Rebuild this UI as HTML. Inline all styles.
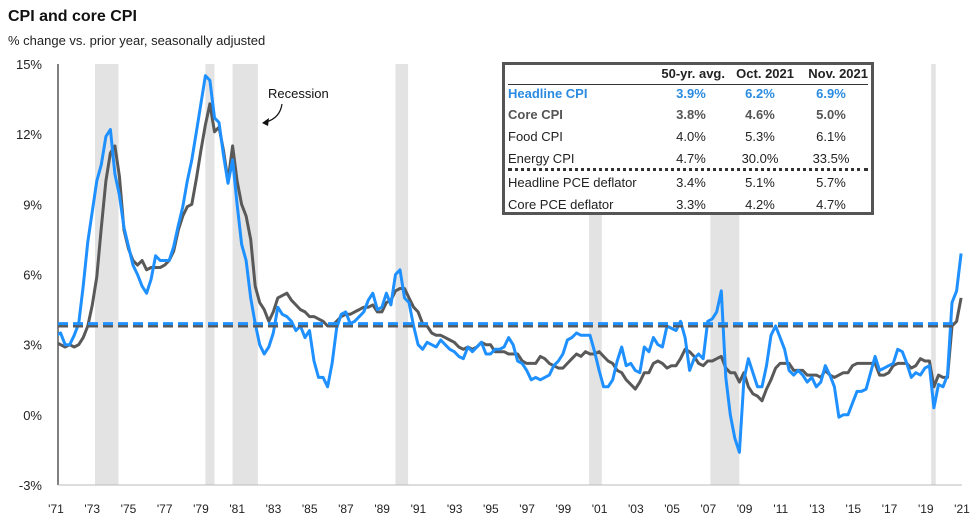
<!DOCTYPE html>
<html><head><meta charset="utf-8"><style>
body{margin:0;background:#fff;font-family:"Liberation Sans",Arial,sans-serif;}
#wrap{position:relative;width:978px;height:524px;overflow:hidden}
.t{position:absolute;white-space:nowrap}
.c{position:absolute;white-space:nowrap;line-height:14px;font-size:13px;transform:translateX(-50%)}
.r{position:absolute;white-space:nowrap;line-height:14px;font-size:13px;font-weight:bold;transform:translateX(-100%)}
.l{position:absolute;white-space:nowrap;line-height:14px;font-size:13px;left:3px}
</style></head><body>
<div id="wrap">
<div class="t" style="left:8px;top:8px;font-size:16px;font-weight:bold;color:#111">CPI and core CPI</div>
<div class="t" style="left:8px;top:33px;font-size:13px;color:#222">% change vs. prior year, seasonally adjusted</div>
<svg id="chart" width="978" height="524" style="position:absolute;left:0;top:0"></svg>
</div>
<script>
const recessions=[[1973.9,1975.2],[1980.0,1980.5],[1981.5,1982.9],[1990.5,1991.2],[2001.2,2001.9],[2007.9,2009.5],[2020.1,2020.35]];
const yTicks=[-3,0,3,6,9,12,15];
const xTickLabels=["'71","'73","'75","'77","'79","'81","'83","'85","'87","'89","'91","'93","'95","'97","'99","'01","'03","'05","'07","'09","'11","'13","'15","'17","'19","'21"];
const headlineAvg=3.9, coreAvg=3.8;
const headline=[4.4,4.4,4.1,3.4, 3.5,3.0,3.0,3.4, 3.9,5.5,7.4,8.7, 10.0,10.7,11.9,12.2, 10.3,9.4,8.0,7.2, 6.4,6.0,5.5,5.2, 5.8,6.8,6.6,6.6, 6.6,7.2,8.1,8.9, 10.0,10.9,12.1,13.3, 14.5,14.3,12.7,12.5, 11.1,9.9,10.9,9.0, 7.3,6.6,5.0,3.9, 3.0,2.6,2.9,3.5, 4.6,4.3,4.2,4.0, 3.6,3.8,3.3,3.6, 2.3,1.6,1.6,1.2, 2.2,3.7,4.3,4.4, 3.9,4.0,4.2,4.4, 4.9,5.2,4.5,4.6, 5.2,4.7,6.0,6.2, 5.0,4.8,3.8,3.0, 2.8,3.1,3.0,2.9, 3.2,3.0,2.8,2.7, 2.5,2.4,2.9,2.7, 2.9,3.1,2.6,2.6, 2.8,2.8,2.9,3.3, 3.0,2.3,2.2,1.9, 1.5,1.6,1.5,1.6, 1.7,2.1,2.3,2.6, 3.2,3.3,3.5,3.4, 3.4,3.4,2.7,1.9, 1.2,1.2,1.5,2.3, 2.9,2.1,2.2,1.9, 1.8,2.9,2.7,3.3, 3.0,2.9,3.8,3.7, 3.6,4.0,3.3,1.9, 2.4,2.6,2.4,4.0, 4.1,4.4,5.3,1.6, 0.0,-1.0,-1.6,1.5, 2.4,1.8,1.2,1.2, 2.1,3.4,3.8,3.3, 2.8,1.9,1.7,1.9, 1.7,1.4,1.6,1.2, 1.4,2.1,1.7,1.2, -0.1,0.0,0.0,0.5, 1.0,1.0,1.1,1.8, 2.5,1.9,2.0,2.1, 2.2,2.8,2.7,2.2, 1.6,1.8,1.7,2.0, 2.1,0.3,1.3,1.2, 1.7,4.8,5.3,6.9];
const core=[3.8,3.5,3.3,3.1, 3.0,2.9,3.0,2.9, 3.0,3.3,3.8,4.7, 5.9,8.0,10.0,11.2, 11.5,10.2,7.9,7.1, 6.6,6.4,6.6,6.2, 6.3,6.3,6.3,6.4, 6.6,7.0,7.9,8.5, 8.9,9.0,10.1,11.3, 12.4,13.3,12.1,12.3, 11.3,10.0,11.5,10.0, 9.0,8.5,7.5,5.5, 4.8,4.5,4.0,4.4, 5.0,5.1,5.2,4.9, 4.7,4.5,4.4,4.2, 4.2,4.1,4.0,3.8, 3.8,4.0,4.2,4.3, 4.3,4.4,4.5,4.6, 4.6,4.7,4.4,4.4, 4.8,4.9,5.3,5.4, 5.4,5.0,4.6,4.4, 3.9,3.8,3.5,3.4, 3.4,3.3,3.2,3.1, 2.9,2.8,2.9,2.8, 2.9,3.1,3.0,3.0, 2.7,2.7,2.7,2.6, 2.6,2.6,2.3,2.2, 2.2,2.2,2.5,2.4, 2.2,2.1,2.0,2.0, 2.2,2.4,2.6,2.5, 2.7,2.6,2.6,2.7, 2.5,2.3,2.2,1.9, 1.8,1.5,1.3,1.1, 1.4,1.8,1.8,2.2, 2.3,2.2,2.0,2.1, 2.1,2.4,2.8,2.7, 2.5,2.2,2.1,2.3, 2.3,2.4,2.5,2.0, 1.8,1.8,1.4,1.8, 1.2,0.9,0.8,0.6, 1.1,1.5,2.0,2.2, 2.2,2.2,1.9,1.9, 1.9,1.7,1.7,1.7, 1.6,1.9,1.7,1.6, 1.7,1.8,1.8,2.1, 2.2,2.2,2.2,2.2, 2.2,1.7,1.7,1.8, 2.1,2.2,2.2,2.2, 2.0,2.1,2.4,2.3, 2.3,1.2,1.7,1.6, 1.6,3.8,4.0,5.0];
const startYear=1971;
const svg=document.getElementById('chart');
const NS='http://www.w3.org/2000/svg';
const AX=58,AXR=962,Y0=485,Y1=64;
const xS=y=>95+(y-1973.9)*18.1;
const yS=v=>Y0-(v+3)*(Y0-Y1)/18;
function mk(tag,attrs,parent){const e=document.createElementNS(NS,tag);for(const k in attrs)e.setAttribute(k,attrs[k]);(parent||svg).appendChild(e);return e;}
const defs=mk('defs',{});
const cp=mk('clipPath',{id:'clip'},defs);
mk('rect',{x:AX,y:0,width:AXR-AX+10,height:524},cp);
recessions.forEach(r=>{
 const e=mk('rect',{x:xS(r[0]),y:Y1,width:xS(r[1])-xS(r[0]),height:Y0-Y1,fill:'#e3e3e3'});
 
 
});
let a=mk('line',{x1:AX,y1:Y1,x2:AX,y2:Y0,stroke:'#000','stroke-width':1});


a=mk('line',{x1:AX,y1:Y0,x2:AXR,y2:Y0,stroke:'#bbb','stroke-width':1});


yTicks.forEach(v=>{
 const t=mk('text',{x:42,y:yS(v)+5,'text-anchor':'end','font-size':13,fill:'#222','font-family':'Liberation Sans, sans-serif'});
 t.textContent=v+'%';
 
 
});
xTickLabels.forEach((s,i)=>{
 const t=mk('text',{x:56+i*(962-56)/25,y:513,'text-anchor':'middle','font-size':12,fill:'#222','font-family':'Liberation Sans, sans-serif'});
 t.textContent=s;
 
 
});
function line(vals,color,name){
 const d=vals.map((v,i)=>(i?'L':'M')+xS(startYear+i*0.25).toFixed(1)+','+yS(v).toFixed(1)).join('');
 const p=mk('path',{d:d,fill:'none',stroke:color,'stroke-width':3,'stroke-linejoin':'round','clip-path':'url(#clip)'});
 
 
}
line(core,'#595959','core-cpi-line');
line(headline,'#1e90ff','headline-cpi-line');
let d1=mk('line',{x1:AX,x2:AXR-5,y1:yS(coreAvg),y2:yS(coreAvg),stroke:'#595959','stroke-width':3,'stroke-dasharray':'10,5'});


let d2=mk('line',{x1:AX,x2:AXR-5,y1:yS(headlineAvg),y2:yS(headlineAvg),stroke:'#1e90ff','stroke-width':3,'stroke-dasharray':'10,5'});


let rl=mk('text',{x:268,y:98,'font-size':13,fill:'#111','font-family':'Liberation Sans, sans-serif'});
rl.textContent='Recession';


let ar=mk('path',{d:'M282,104 Q280,118 266,122',fill:'none',stroke:'#111','stroke-width':1.2});


let ah=mk('path',{d:'M262,123 L269,118 L268,126 Z',fill:'#111'});


</script>
<div style="position:absolute;left:502px;top:62px;width:366px;height:147px;border:3px solid #555;background:#fff;color:#222">
<div style="position:absolute;left:3px;right:3px;top:19px;border-top:1px solid #333"></div>
<div style="position:absolute;left:3px;right:3px;top:103px;border-top:3px dotted #333"></div>
<div>
<div class="r" style="left:220px;top:2px">50-yr. avg.</div><div class="r" style="left:289px;top:2px">Oct. 2021</div><div class="r" style="left:363px;top:2px">Nov. 2021</div></div>
<div style="color:#2a8be0;font-weight:bold">
<div class="l" style="top:22px;font-weight:bold">Headline CPI</div><div class="c" style="left:186px;top:22px;font-weight:bold">3.9%</div><div class="c" style="left:255px;top:22px;font-weight:bold">6.2%</div><div class="c" style="left:326px;top:22px;font-weight:bold">6.9%</div></div>
<div style="color:#555">
<div class="l" style="top:43px;font-weight:bold">Core CPI</div><div class="c" style="left:186px;top:43px;font-weight:bold">3.8%</div><div class="c" style="left:255px;top:43px;font-weight:bold">4.6%</div><div class="c" style="left:326px;top:43px;font-weight:bold">5.0%</div></div>
<div>
<div class="l" style="top:65px">Food CPI</div><div class="c" style="left:186px;top:65px">4.0%</div><div class="c" style="left:255px;top:65px">5.3%</div><div class="c" style="left:326px;top:65px">6.1%</div></div>
<div>
<div class="l" style="top:87px">Energy CPI</div><div class="c" style="left:186px;top:87px">4.7%</div><div class="c" style="left:255px;top:87px">30.0%</div><div class="c" style="left:326px;top:87px">33.5%</div></div>
<div>
<div class="l" style="top:111px">Headline PCE deflator</div><div class="c" style="left:186px;top:111px">3.4%</div><div class="c" style="left:255px;top:111px">5.1%</div><div class="c" style="left:326px;top:111px">5.7%</div></div>
<div>
<div class="l" style="top:133px">Core PCE deflator</div><div class="c" style="left:186px;top:133px">3.3%</div><div class="c" style="left:255px;top:133px">4.2%</div><div class="c" style="left:326px;top:133px">4.7%</div></div>
</div>
</body></html>
